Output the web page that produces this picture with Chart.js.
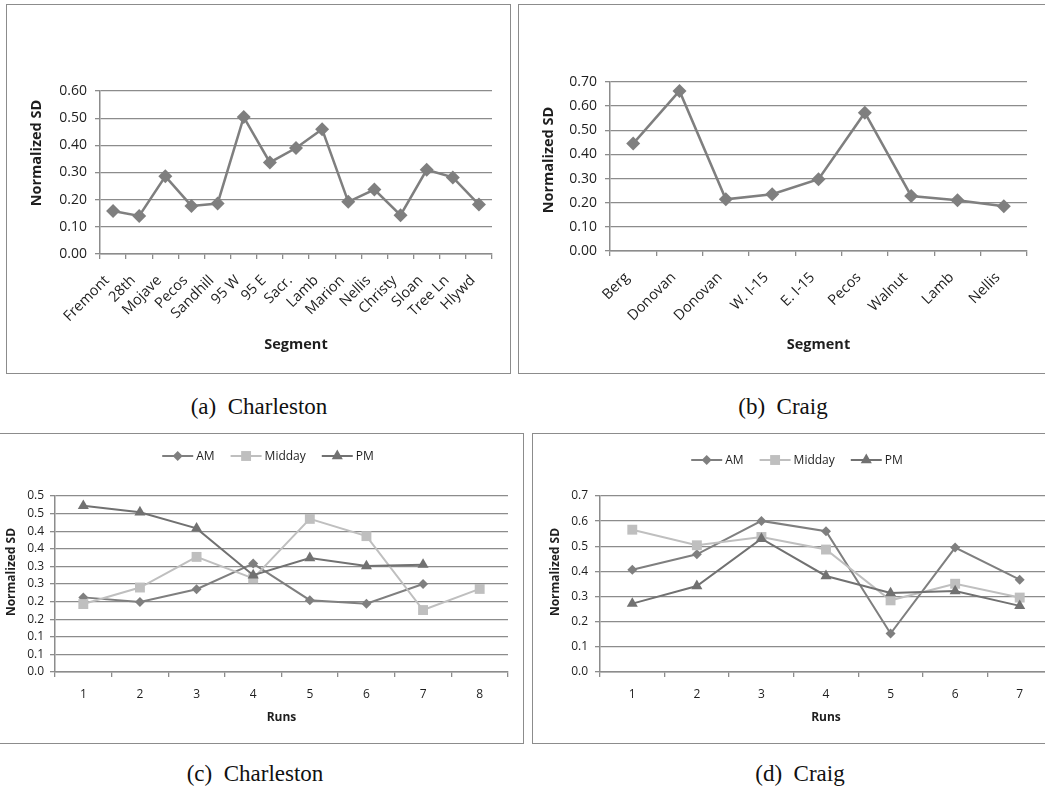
<!DOCTYPE html>
<html>
<head>
<meta charset="utf-8">
<script src="https://cdn.jsdelivr.net/npm/chart.js@4.4.1/dist/chart.umd.min.js"></script>
<style>
html, body { margin: 0; padding: 0; background: #fff; overflow: hidden; }
body { width: 1045px; height: 789px; position: relative; }
.box { position: absolute; border: 1.5px solid #8c8c8c; box-sizing: border-box; }
canvas { position: absolute; }
.cap { position: absolute; font-family: "Liberation Serif", "Times New Roman", serif; font-size: 23px; color: #111;
       white-space: pre; transform: translate(-50%, -50%); }
</style>
</head>
<body>
<div class="box" style="left:6px;top:4px;width:505px;height:370px"></div>
<div class="box" style="left:518px;top:4px;width:560px;height:370px"></div>
<div class="box" style="left:-10px;top:433px;width:534px;height:311px"></div>
<div class="box" style="left:532px;top:433px;width:560px;height:311px"></div>

<canvas id="chartA"></canvas>
<canvas id="chartB"></canvas>
<canvas id="chartC"></canvas>
<canvas id="chartD"></canvas>

<div class="cap" style="left:259px;top:407px">(a)  Charleston</div>
<div class="cap" style="left:783px;top:407px">(b)  Craig</div>
<div class="cap" style="left:255px;top:774px">(c)  Charleston</div>
<div class="cap" style="left:800px;top:774px">(d)  Craig</div>

<script>
// (a) Charleston segments
const segmentsA = ['Fremont', '28th', 'Mojave', 'Pecos', 'Sandhill', '95 W', '95 E', 'Sacr.', 'Lamb', 'Marion', 'Nellis', 'Christy', 'Sloan', 'Tree Ln', 'Hlywd'];
const sdA = [0.158, 0.140, 0.286, 0.177, 0.186, 0.504, 0.337, 0.390, 0.459, 0.192, 0.237, 0.143, 0.310, 0.282, 0.182];

// (b) Craig segments
const segmentsB = ['Berg', 'Donovan', 'Donovan', 'W. I-15', 'E. I-15', 'Pecos', 'Walnut', 'Lamb', 'Nellis'];
const sdB = [0.445, 0.663, 0.214, 0.235, 0.297, 0.573, 0.228, 0.210, 0.185];

// (c) Charleston runs
const runsC = ['1', '2', '3', '4', '5', '6', '7', '8'];
const amC = [0.212, 0.199, 0.235, 0.308, 0.204, 0.194, 0.250, null];
const middayC = [0.193, 0.240, 0.327, 0.266, 0.435, 0.386, 0.176, 0.236];
const pmC = [0.472, 0.454, 0.408, 0.275, 0.324, 0.301, 0.305, null];
const yTicksC = ['0.0', '0.1', '0.1', '0.2', '0.2', '0.3', '0.3', '0.4', '0.4', '0.5', '0.5'];

// (d) Craig runs
const runsD = ['1', '2', '3', '4', '5', '6', '7'];
const amD = [0.407, 0.468, 0.601, 0.560, 0.153, 0.495, 0.367];
const middayD = [0.566, 0.504, 0.537, 0.487, 0.285, 0.351, 0.296];
const pmD = [0.272, 0.342, 0.530, 0.382, 0.314, 0.322, 0.263];

const GRID = '#8c8c8c';
const TEXT = '#1e1e1e';
const FONT = '"Open Sans", "DejaVu Sans", sans-serif';
const DARK = '#7f7f7f';
const LIGHT = '#bfbfbf';
const PMGRAY = '#717171';

function drawMarker(ctx, style, x, y, r) {
    ctx.beginPath();
    if (style === 'rectRot') {
        ctx.moveTo(x - r, y); ctx.lineTo(x, y - r); ctx.lineTo(x + r, y); ctx.lineTo(x, y + r);
    } else if (style === 'rect') {
        let s = r * Math.SQRT1_2;
        ctx.rect(x - s, y - s, 2 * s, 2 * s);
    } else {
        for (let k = 0; k < 3; k++) {
            let a = -Math.PI / 2 + k * 2 * Math.PI / 3;
            if (k === 0) ctx.moveTo(x + r * Math.cos(a), y + r * Math.sin(a));
            else ctx.lineTo(x + r * Math.cos(a), y + r * Math.sin(a));
        }
    }
    ctx.closePath();
    ctx.fill();
}

// rotated y axis title, placed like Excel does
Chart.register({
    id: 'yTitle',
    afterDraw(chart, args, opts) {
        if (!opts || !opts.text) return;
        const ctx = chart.ctx;
        ctx.save();
        ctx.translate(opts.x, opts.y);
        ctx.rotate(-Math.PI / 2);
        ctx.font = 'bold ' + opts.size + 'px ' + FONT;
        ctx.fillStyle = TEXT;
        ctx.textAlign = 'center';
        ctx.textBaseline = 'middle';
        ctx.fillText(opts.text, 0, 0);
        ctx.restore();
    }
});

// legend with line + marker, like the Excel legend
Chart.register({
    id: 'lineLegend',
    afterDraw(chart, args, opts) {
        if (!opts || !opts.show) return;
        const ctx = chart.ctx;
        const sets = chart.data.datasets;
        const lineLen = 31, gap = 3, spacing = 16;
        ctx.save();
        ctx.font = '12px ' + FONT;
        let widths = sets.map(d => lineLen + gap + ctx.measureText(d.label).width);
        let total = widths.reduce((a, b) => a + b, 0) + spacing * (sets.length - 1);
        let x = opts.cx - total / 2;
        sets.forEach((d, i) => {
            ctx.strokeStyle = d.borderColor;
            ctx.lineWidth = d.borderWidth;
            ctx.beginPath();
            ctx.moveTo(x, opts.cy);
            ctx.lineTo(x + lineLen, opts.cy);
            ctx.stroke();
            ctx.fillStyle = d.borderColor;
            drawMarker(ctx, d.pointStyle, x + lineLen / 2, opts.cy, d.pointRadius);
            ctx.fillStyle = TEXT;
            ctx.textAlign = 'left';
            ctx.textBaseline = 'middle';
            ctx.fillText(d.label, x + lineLen + gap, opts.cy + 1);
            x += widths[i] + spacing;
        });
        ctx.restore();
    }
});

function series(label, data, color, style, radius, width, order) {
    return {
        label: label, data: data, borderColor: color, backgroundColor: color,
        borderWidth: width, tension: 0, pointStyle: style, pointRadius: radius,
        pointBackgroundColor: color, pointBorderColor: color, pointBorderWidth: 0,
        pointHoverRadius: radius, order: order
    };
}

// rect = canvas box on the page, area = plot area on the page
function panel(id, rect, area, cfg) {
    const cv = document.getElementById(id);
    cv.width = rect.w;
    cv.height = rect.h;
    cv.style.left = rect.x + 'px';
    cv.style.top = rect.y + 'px';
    cv.style.width = rect.w + 'px';
    cv.style.height = rect.h + 'px';

    new Chart(cv, {
        type: 'line',
        data: { labels: cfg.labels, datasets: cfg.datasets },
        options: {
            responsive: false,
            animation: false,
            devicePixelRatio: 1,
            layout: { padding: { left: 0, top: area.t - rect.y, right: rect.x + rect.w - area.r, bottom: 0 } },
            plugins: {
                legend: { display: false },
                tooltip: { enabled: false },
                yTitle: { text: 'Normalized SD', x: cfg.yTitle[0] - rect.x, y: cfg.yTitle[1] - rect.y, size: cfg.titleSize },
                lineLegend: cfg.legend ? { show: true, cx: cfg.legend[0] - rect.x, cy: cfg.legend[1] - rect.y } : { show: false }
            },
            scales: {
                x: {
                    offset: true,
                    grid: { offset: true, drawOnChartArea: false, drawTicks: true, tickLength: 5, color: GRID, lineWidth: 1.3 },
                    border: { color: GRID, width: 1.5 },
                    ticks: {
                        autoSkip: false, minRotation: cfg.rot, maxRotation: cfg.rot, padding: cfg.xPad,
                        labelOffset: cfg.labelOffset || 0,
                        color: TEXT, font: { family: FONT, size: cfg.xTickSize || cfg.tickSize }
                    },
                    title: {
                        display: true, text: cfg.xTitle, color: TEXT,
                        font: { family: FONT, size: cfg.titleSize, weight: 'bold' },
                        padding: { top: 0, bottom: cfg.xTitlePad }
                    },
                    afterFit: s => { s.height = rect.y + rect.h - area.b; }
                },
                y: {
                    min: 0, max: cfg.yMax,
                    grid: { color: GRID, lineWidth: 1.3, tickLength: 5 },
                    border: { color: GRID, width: 1.5 },
                    ticks: {
                        stepSize: cfg.step, padding: cfg.yPad, color: TEXT,
                        font: { family: FONT, size: cfg.tickSize },
                        callback: cfg.yLabel
                    },
                    afterFit: s => { s.width = area.l - rect.x; }
                }
            }
        }
    });
}

panel('chartA', { x: 8, y: 6, w: 500, h: 366 }, { l: 100, t: 91, r: 492, b: 254 }, {
    labels: segmentsA,
    datasets: [series('Normalized SD', sdA, DARK, 'rectRot', 7, 2.5, 1)],
    yMax: 0.6, step: 0.1, yLabel: v => v.toFixed(2),
    rot: 45, xPad: 13, labelOffset: -6, tickSize: 14, xTickSize: 14.5, titleSize: 14.5,
    xTitle: 'Segment', xTitlePad: 18, yPad: 8, yTitle: [37, 153]
});

panel('chartB', { x: 520, y: 6, w: 525, h: 366 }, { l: 610, t: 82, r: 1027, b: 251 }, {
    labels: segmentsB,
    datasets: [series('Normalized SD', sdB, DARK, 'rectRot', 7, 2.5, 1)],
    yMax: 0.7, step: 0.1, yLabel: v => v.toFixed(2),
    rot: 45, xPad: 13, labelOffset: -6, tickSize: 14, xTickSize: 14.5, titleSize: 14.5,
    xTitle: 'Segment', xTitlePad: 18, yPad: 8, yTitle: [549, 160]
});

panel('chartC', { x: 0, y: 435, w: 521, h: 307 }, { l: 55, t: 496, r: 508, b: 672 }, {
    labels: runsC,
    datasets: [
        series('AM', amC, DARK, 'rectRot', 5, 2, 3),
        series('Midday', middayC, LIGHT, 'rect', 7, 2, 2),
        series('PM', pmC, PMGRAY, 'triangle', 6.4, 2, 1)
    ],
    yMax: 0.5, step: 0.05, yLabel: (v, i) => yTicksC[i],
    rot: 0, xPad: 10, tickSize: 12, titleSize: 12,
    xTitle: 'Runs', xTitlePad: 17, yPad: 6, yTitle: [12, 572], legend: [268, 456]
});

panel('chartD', { x: 534, y: 435, w: 530, h: 307 }, { l: 600, t: 496, r: 1052, b: 672 }, {
    labels: runsD,
    datasets: [
        series('AM', amD, DARK, 'rectRot', 5, 2, 3),
        series('Midday', middayD, LIGHT, 'rect', 7, 2, 2),
        series('PM', pmD, PMGRAY, 'triangle', 6.4, 2, 1)
    ],
    yMax: 0.7, step: 0.1, yLabel: v => v.toFixed(1),
    rot: 0, xPad: 10, tickSize: 12, titleSize: 12,
    xTitle: 'Runs', xTitlePad: 17, yPad: 7, yTitle: [556, 572], legend: [797, 460]
});
</script>
</body>
</html>
